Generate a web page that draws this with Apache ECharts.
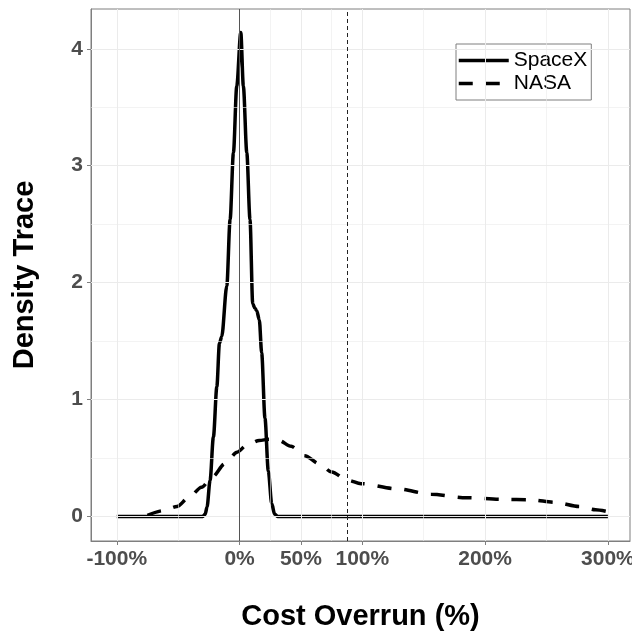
<!DOCTYPE html>
<html>
<head>
<meta charset="utf-8">
<script src="https://cdn.jsdelivr.net/npm/echarts@6/dist/echarts.min.js"></script>
<style>
  html, body { margin: 0; padding: 0; background: #fff; }
  #chart { width: 632px; height: 634px; }
</style>
</head>
<body>
<div id="chart"></div>
<script>
// 数据
const spacexX = [-100, -30, -28, -26.5, -24, -21.3, -18.5, -16.4, -14.5, -10.4, -7.7, -5, -2.3, 1, 3.1, 5.9, 8.5, 10.7, 12.5, 14, 16.1, 18, 20.7, 23.4, 26.2, 28.5, 31, 300];
const spacexY = [0, 0, 0.02, 0.08, 0.31, 0.68, 1.11, 1.48, 1.54, 1.97, 2.54, 3.11, 3.68, 4.14, 3.68, 3.11, 2.54, 1.82, 1.78, 1.76, 1.68, 1.40, 0.84, 0.39, 0.11, 0.02, 0, 0];
const nasaX = [-75, -62, -51, -41, -31, -22, -12, -2, 6, 16, 24, 32, 42, 53, 65, 75, 88, 99, 128, 156, 185, 214, 237, 257, 277, 290, 300];
const nasaY = [0.01, 0.05, 0.085, 0.165, 0.25, 0.34, 0.45, 0.55, 0.61, 0.65, 0.66, 0.65, 0.60, 0.52, 0.45, 0.38, 0.31, 0.28, 0.237, 0.19, 0.16, 0.146, 0.143, 0.12, 0.085, 0.057, 0.04];
const xBreaks = [-100, 0, 50, 100, 200, 300];
const xMinor = [-50, 25, 75, 150, 250];
const yBreaks = [0, 1, 2, 3, 4];
const yMinor = [0.5, 1.5, 2.5, 3.5];
const zeroLine = 0;
const refLine = 88;

const chart = echarts.init(document.getElementById('chart'));
const font = 'Liberation Sans, Arial, sans-serif';
const axisGray = '#7f7f7f';

function pairs(xs, ys) {
    return xs.map((x, i) => [x, ys[i]]);
}

// 网格线
const gridLines = [];
xBreaks.forEach(v => gridLines.push({ xAxis: v, lineStyle: { width: 1 } }));
xMinor.forEach(v => gridLines.push({ xAxis: v, lineStyle: { width: 0.6 } }));
yBreaks.forEach(v => gridLines.push({ yAxis: v, lineStyle: { width: 1 } }));
yMinor.forEach(v => gridLines.push({ yAxis: v, lineStyle: { width: 0.6 } }));

const option = {
    animation: false,
    textStyle: { fontFamily: font },
    grid: {
        left: 91, right: 2, top: 9, bottom: 93,
        containLabel: false, outerBoundsMode: 'none',
        show: true, borderColor: axisGray, borderWidth: 1
    },
    legend: {
        data: ['SpaceX', 'NASA'],
        orient: 'vertical',
        left: 456, top: 44,
        padding: [6, 4, 6, 1],
        itemWidth: 50, itemHeight: 14, itemGap: 2,
        borderColor: axisGray, borderWidth: 1,
        backgroundColor: '#fff',
        itemStyle: { opacity: 0 },
        lineStyle: { width: 3.5 },
        textStyle: { fontSize: 21, color: '#000', fontFamily: font }
    },
    xAxis: {
        type: 'value', min: -121, max: 318,
        name: 'Cost Overrun (%)', nameLocation: 'middle', nameGap: 61,
        nameTextStyle: { fontSize: 29, fontWeight: 'bold', color: '#000' },
        axisLine: { show: true, onZero: false, lineStyle: { color: axisGray } },
        axisTick: { show: true, length: 4, customValues: xBreaks, lineStyle: { color: axisGray } },
        axisLabel: {
            customValues: xBreaks, formatter: v => v + '%', margin: 8,
            fontSize: 21, fontWeight: 'bold', color: '#4d4d4d'
        },
        splitLine: { show: false }
    },
    yAxis: {
        type: 'value', min: -0.21, max: 4.34,
        name: 'Density Trace', nameLocation: 'middle', nameGap: 52, nameRotate: 90,
        nameTextStyle: { fontSize: 29, fontWeight: 'bold', color: '#000' },
        axisLine: { show: true, onZero: false, lineStyle: { color: axisGray } },
        axisTick: { show: true, length: 4, customValues: yBreaks, lineStyle: { color: axisGray } },
        axisLabel: {
            customValues: yBreaks, margin: 8,
            fontSize: 21, fontWeight: 'bold', color: '#4d4d4d'
        },
        splitLine: { show: false }
    },
    series: [
        {
            name: 'grid', type: 'line', data: [], z: 1, silent: true,
            markLine: {
                silent: true, symbol: 'none', label: { show: false },
                lineStyle: { color: '#ebebeb', type: 'solid' },
                data: gridLines
            }
        },
        {
            name: 'refs', type: 'line', data: [], z: 2, silent: true,
            markLine: {
                silent: true, symbol: 'none', label: { show: false },
                data: [
                    { xAxis: zeroLine, lineStyle: { color: '#555', width: 1, type: 'solid' } },
                    { xAxis: refLine, lineStyle: { color: '#222', width: 1, type: [4, 3] } }
                ]
            }
        },
        {
            name: 'SpaceX', type: 'line', z: 4,
            data: pairs(spacexX, spacexY),
            symbol: 'none', smooth: 0.3, smoothMonotone: 'x',
            lineStyle: { color: '#000', width: 3.5, type: 'solid' },
            itemStyle: { color: '#000' }
        },
        {
            name: 'NASA', type: 'line', z: 3,
            data: pairs(nasaX, nasaY),
            symbol: 'none', smooth: 0.3, smoothMonotone: 'x',
            lineStyle: { color: '#000', width: 3.5, type: [14, 13] },
            itemStyle: { color: '#000' }
        }
    ]
};
chart.setOption(option);
</script>
</body>
</html>
